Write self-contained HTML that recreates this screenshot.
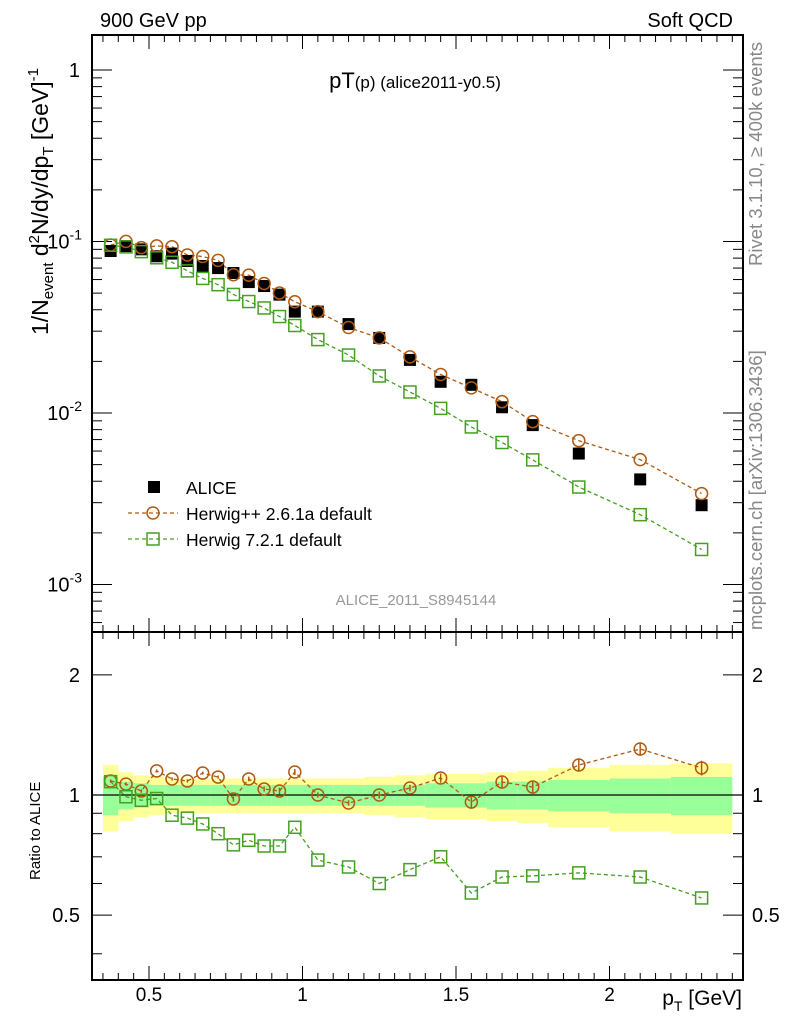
<!DOCTYPE html>
<html><head><meta charset="utf-8"><style>
body{margin:0;background:#fff}
svg text{font-family:"Liberation Sans",sans-serif}
</style></head><body>
<svg id="c" width="786" height="1024" xmlns="http://www.w3.org/2000/svg">
<rect width="786" height="1024" fill="#fff"/>
<g id="bands"></g><g id="grid"></g><g id="marks"></g>
<rect x="92" y="35" width="651" height="597" fill="none" stroke="#000" stroke-width="2"/>
<rect x="92" y="632" width="651" height="348" fill="none" stroke="#000" stroke-width="2"/>
<text x="100" y="27" font-size="20">900 GeV pp</text>
<text x="733" y="27" font-size="20" text-anchor="end">Soft QCD</text>
<text x="415" y="88" font-size="22" text-anchor="middle">pT<tspan font-size="17">(p)</tspan><tspan font-size="17"> (alice2011-y0.5)</tspan></text>
<text x="416" y="605" font-size="15" fill="#999" text-anchor="middle">ALICE_2011_S8945144</text>
<text transform="translate(762,266) rotate(-90)" font-size="18.5" fill="#888">Rivet 3.1.10, ≥ 400k events</text>
<text transform="translate(762,630) rotate(-90)" font-size="18.5" fill="#888">mcplots.cern.ch [arXiv:1306.3436]</text>
<text transform="translate(48,335) rotate(-90)" font-size="23">1/N<tspan font-size="15" dy="5">event</tspan><tspan dy="-5"> d</tspan><tspan font-size="15" dy="-9">2</tspan><tspan dy="9">N/dy/dp</tspan><tspan font-size="15" dy="5">T</tspan><tspan dy="-5"> [GeV]</tspan><tspan font-size="15" dy="-10">-1</tspan></text>
<text transform="translate(40,880) rotate(-90)" font-size="15">Ratio to ALICE</text>
<text x="742" y="1005" font-size="21" text-anchor="end">p<tspan font-size="14" dy="6">T</tspan><tspan dy="-6"> [GeV]</tspan></text>
<g id="legend">
<rect x="148" y="481" width="12" height="12" fill="#000"/>
<text x="186" y="494" font-size="17.5">ALICE</text>
<line x1="128" y1="513" x2="178" y2="513" stroke="#b05a10" stroke-width="1.3" stroke-dasharray="4,3"/>
<circle cx="153" cy="513" r="6" fill="none" stroke="#b05a10" stroke-width="1.5"/>
<text x="186" y="520" font-size="17.5">Herwig++ 2.6.1a default</text>
<line x1="128" y1="539" x2="178" y2="539" stroke="#44a020" stroke-width="1.3" stroke-dasharray="4,3"/>
<rect x="147" y="533" width="12" height="12" fill="none" stroke="#44a020" stroke-width="1.5"/>
<text x="186" y="546" font-size="17.5">Herwig 7.2.1 default</text>
</g>
</svg>
<script>
const pt=[0.375,0.425,0.475,0.525,0.575,0.625,0.675,0.725,0.775,0.825,0.875,0.925,0.975,1.05,1.15,1.25,1.35,1.45,1.55,1.65,1.75,1.9,2.1,2.3];
const binEdges=[0.35,0.4,0.45,0.5,0.55,0.6,0.65,0.7,0.75,0.8,0.85,0.9,0.95,1.0,1.1,1.2,1.3,1.4,1.5,1.6,1.7,1.8,2.0,2.2,2.4];
const alice=[0.088,0.094,0.090,0.082,0.085,0.077,0.072,0.070,0.0655,0.058,0.055,0.049,0.039,0.039,0.033,0.0274,0.0204,0.0152,0.0146,0.0108,0.0085,0.0058,0.0041,0.0029];
const hppRatio=[1.084,1.065,1.023,1.149,1.097,1.084,1.135,1.109,0.977,1.097,1.035,1.023,1.142,1.0,0.955,1.0,1.041,1.103,0.960,1.078,1.047,1.189,1.304,1.169];
const hppErr=[0.01,0.01,0.01,0.01,0.01,0.01,0.01,0.01,0.015,0.015,0.015,0.02,0.02,0.015,0.015,0.02,0.02,0.03,0.03,0.035,0.04,0.04,0.05,0.05];
const h7Ratio=[1.08,0.99,0.97,0.98,0.89,0.875,0.846,0.80,0.75,0.77,0.745,0.745,0.83,0.687,0.66,0.60,0.65,0.70,0.568,0.623,0.627,0.638,0.623,0.552];
const statErr=[0.11,0.08,0.07,0.06,0.06,0.06,0.06,0.06,0.06,0.06,0.06,0.06,0.06,0.06,0.06,0.06,0.06,0.07,0.07,0.08,0.08,0.09,0.10,0.11];
const totErr=[0.19,0.14,0.12,0.11,0.10,0.10,0.10,0.10,0.10,0.10,0.10,0.10,0.10,0.10,0.10,0.11,0.12,0.13,0.13,0.14,0.15,0.17,0.19,0.20];
const xTicks=[0.5,1,1.5,2];
const xTickLabels=["0.5","1","1.5","2"];
const yTicks=[1,0.1,0.01,0.001];
const rTicks=[0.5,1,2];
const rTickLabels=["0.5","1","2"];
const NS="http://www.w3.org/2000/svg";
const X=v=>149+(v-0.5)*307;
const Y=v=>70-Math.log10(v)*171.5;
const R=v=>795-Math.log10(v)*399;
function mk(p,t,a){const e=document.createElementNS(NS,t);for(const k in a)e.setAttribute(k,a[k]);p.appendChild(e);return e;}
const gB=document.getElementById('bands'),gG=document.getElementById('grid'),gM=document.getElementById('marks'),svg=document.getElementById('c');
for(let i=0;i<pt.length;i++){
 const x1=X(binEdges[i]),x2=X(binEdges[i+1]);
 const y=mk(gB,'rect',{x:x1,y:R(1+totErr[i]),width:x2-x1,height:R(1-totErr[i])-R(1+totErr[i]),fill:'#ffff99'});
 
 
 const g=mk(gB,'rect',{x:x1,y:R(1+statErr[i]),width:x2-x1,height:R(1-statErr[i])-R(1+statErr[i]),fill:'#99ff99'});
 
 
}
mk(gB,'line',{x1:92,x2:743,y1:R(1),y2:R(1),stroke:'#000','stroke-width':1.2});
for(let v=0.35;v<2.42;v+=0.05){
 const vv=Math.round(v*100)/100, major=Math.abs(vv*2-Math.round(vv*2))<1e-6, x=X(vv), l=major?14:7;
 for(const [yb,yt] of [[632,35],[980,632]]){
  mk(gG,'line',{x1:x,x2:x,y1:yb,y2:yb-l,stroke:'#000','stroke-width':1});
  mk(gG,'line',{x1:x,x2:x,y1:yt,y2:yt+l,stroke:'#000','stroke-width':1});
 }
}
xTicks.forEach((v,i)=>{const t=mk(svg,'text',{x:X(v),y:1001,'font-size':19,'text-anchor':'middle'});t.textContent=xTickLabels[i];
 
 });
for(let d=-4;d<=0;d++){for(let m=1;m<10;m++){const v=m*Math.pow(10,d),y=Y(v);if(y<36||y>631)continue;const l=m==1?20:10;
 mk(gG,'line',{x1:92,x2:92+l,y1:y,y2:y,stroke:'#000'});mk(gG,'line',{x1:743,x2:743-l,y1:y,y2:y,stroke:'#000'});}}
yTicks.forEach((v,i)=>{const t=mk(svg,'text',{x:v==1?80:82,y:Y(v)+7,'font-size':20,'text-anchor':'end'});
 if(v==1)t.textContent='1';else{t.textContent='10';const s=mk(t,'tspan',{'font-size':14,dy:-9});s.textContent=String(Math.round(Math.log10(v)));}
 
 });
[0.4,0.5,0.6,0.7,0.8,0.9,1,2].forEach(v=>{const y=R(v);if(y>979)return;const l=(v==0.5||v==1||v==2)?20:10;
 mk(gG,'line',{x1:92,x2:92+l,y1:y,y2:y,stroke:'#000'});mk(gG,'line',{x1:743,x2:743-l,y1:y,y2:y,stroke:'#000'});});
rTicks.forEach((v,i)=>{for(const [x,a] of [[80,'end'],[752,'start']]){const t=mk(svg,'text',{x:x,y:R(v)+7,'font-size':20,'text-anchor':a});t.textContent=rTickLabels[i];
 
 }});
function line(pts,col){mk(gM,'polyline',{points:pts.map(p=>p.join(',')).join(' '),fill:'none',stroke:col,'stroke-width':1.3,'stroke-dasharray':'4,3'});}
const hpp=alice.map((a,i)=>a*hppRatio[i]), h7=alice.map((a,i)=>a*h7Ratio[i]);
line(pt.map((p,i)=>[X(p),Y(hpp[i])]),'#b05a10');
line(pt.map((p,i)=>[X(p),Y(h7[i])]),'#44a020');
line(pt.map((p,i)=>[X(p),R(hppRatio[i])]),'#b05a10');
line(pt.map((p,i)=>[X(p),R(h7Ratio[i])]),'#44a020');
pt.forEach((p,i)=>{
 const a=mk(gM,'rect',{x:X(p)-6,y:Y(alice[i])-6,width:12,height:12,fill:'#000'});
 
 
 const e=mk(gM,'line',{x1:X(p),x2:X(p),y1:R(hppRatio[i]+hppErr[i]),y2:R(hppRatio[i]-hppErr[i]),stroke:'#b05a10','stroke-width':1.5});
 
 
});
pt.forEach((p,i)=>{
 for(const [y,nm] of [[Y(hpp[i]),'herwigpp-point'],[R(hppRatio[i]),'herwigpp-ratio-point']]){
  const c=mk(gM,'circle',{cx:X(p),cy:y,r:6,fill:'#fff','fill-opacity':0,stroke:'#b05a10','stroke-width':1.5});
  
  
 }
 for(const [y,nm] of [[Y(h7[i]),'herwig7-point'],[R(h7Ratio[i]),'herwig7-ratio-point']]){
  const s=mk(gM,'rect',{x:X(p)-6,y:y-6,width:12,height:12,fill:'none',stroke:'#44a020','stroke-width':1.5});
  
  
 }
});
</script>
</body></html>
